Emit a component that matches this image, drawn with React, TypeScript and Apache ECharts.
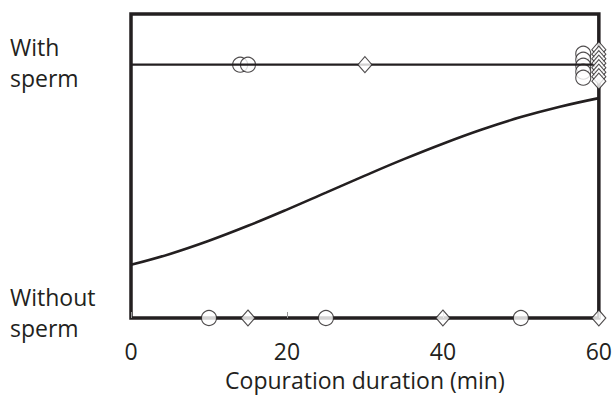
import React, { useEffect, useRef } from "react";
import * as echarts from "echarts";

// Fitted curve (proportion) read at 5-min steps
const curveMinutes = [0, 5, 10, 15, 20, 25, 30, 35, 40, 45, 50, 55, 60];
const curveValues = [0.21, 0.253, 0.305, 0.364, 0.428, 0.495, 0.562, 0.627, 0.688, 0.744, 0.793, 0.834, 0.868];

// Individual observations (minutes); y = 1 with sperm, y = 0 without sperm
const withSpermCircles = [14, 15, 58, 58, 58, 58, 58];
const withSpermDiamonds = [30, 60, 60, 60, 60, 60, 60, 60, 60];
const withoutSpermCircles = [10, 25, 50];
const withoutSpermDiamonds = [15, 40, 60];

const xTicks = [0, 20, 40, 60];
const xTitle = "Copuration duration (min)";
const withLabel = "With\nsperm";
const withoutLabel = "Without\nsperm";

const INK = "#231f20";
const FONT = "Open Sans";

function stacked(xs: number[], y: number, step: number, start: number) {
  const counts: Record<number, number> = {};
  xs.forEach((x) => (counts[x] = (counts[x] || 0) + 1));
  const seen: Record<number, number> = {};
  return xs.map((x) => {
    const n = counts[x];
    const k = seen[x] || 0;
    seen[x] = k + 1;
    const off = n > 1 ? start + k * step : 0;
    return { value: [x, y], symbolOffset: [0, off] };
  });
}

export default function App() {
  const ref = useRef<HTMLDivElement>(null);
  useEffect(() => {
    if (!ref.current) return;
    const chart = echarts.init(ref.current, null, { renderer: "svg" });
    const markerStyle = { color: "#fff", borderColor: INK, borderWidth: 1.1 };
    chart.setOption({
      animation: false,
      backgroundColor: "#fff",
      grid: {
        left: 131,
        right: 13,
        top: 14,
        bottom: 68,
        show: true,
        borderColor: INK,
        borderWidth: 3.5,
        backgroundColor: "transparent",
      },
      xAxis: {
        type: "value",
        min: 0,
        max: 60,
        interval: 20,
        axisLine: { show: false },
        axisTick: { show: true, inside: true, length: 6, lineStyle: { color: "#999", width: 1 } },
        splitLine: { show: false },
        axisLabel: {
          margin: 21,
          fontSize: 23,
          lineHeight: 23,
          fontFamily: FONT,
          color: INK,
          formatter: (v: number) => (xTicks.includes(v) ? String(v) : ""),
        },
        name: xTitle,
        nameLocation: "middle",
        nameGap: 50,
        nameTextStyle: { fontSize: 23, lineHeight: 23, fontFamily: FONT, color: INK },
      },
      yAxis: {
        type: "value",
        min: 0,
        max: 1.2,
        interval: 0.2,
        axisLine: { show: false },
        axisTick: { show: false },
        axisLabel: { show: false },
        splitLine: { show: false },
      },
      graphic: [
        {
          type: "text",
          left: 10,
          top: 31,
          style: { text: withLabel, fontSize: 23, lineHeight: 31.6, fontFamily: FONT, fill: INK },
        },
        {
          type: "text",
          left: 10,
          top: 281,
          style: { text: withoutLabel, fontSize: 23, lineHeight: 31.6, fontFamily: FONT, fill: INK },
        },
      ],
      series: [
        {
          type: "line",
          data: curveMinutes.map((m, i) => [m, curveValues[i]]),
          smooth: 0.4,
          showSymbol: false,
          lineStyle: { color: INK, width: 2.6 },
          z: 3,
        },
        {
          type: "scatter",
          data: stacked(withSpermCircles, 1, 6, -11),
          symbol: "circle",
          symbolSize: 15,
          itemStyle: markerStyle,
          clip: false,
          z: 2,
        },
        {
          type: "line",
          data: [
            [0, 1],
            [60, 1],
          ],
          showSymbol: false,
          lineStyle: { color: INK, width: 2.2 },
          z: 3,
        },
        {
          type: "scatter",
          data: stacked(withSpermDiamonds, 1, 4.5, -15),
          symbol: "diamond",
          symbolSize: [14, 16],
          itemStyle: markerStyle,
          clip: false,
          z: 4,
        },
        {
          type: "scatter",
          data: withoutSpermCircles.map((x) => [x, 0]),
          symbol: "circle",
          symbolSize: 15,
          itemStyle: markerStyle,
          clip: false,
          z: 4,
        },
        {
          type: "scatter",
          data: withoutSpermDiamonds.map((x) => [x, 0]),
          symbol: "diamond",
          symbolSize: [14, 16],
          itemStyle: markerStyle,
          clip: false,
          z: 4,
        },
      ],
    });
    return () => chart.dispose();
  }, []);
  return (
    <div
      ref={ref}
      style={{ position: "fixed", left: 0, top: 0, width: 615, height: 396 }}
    />
  );
}
